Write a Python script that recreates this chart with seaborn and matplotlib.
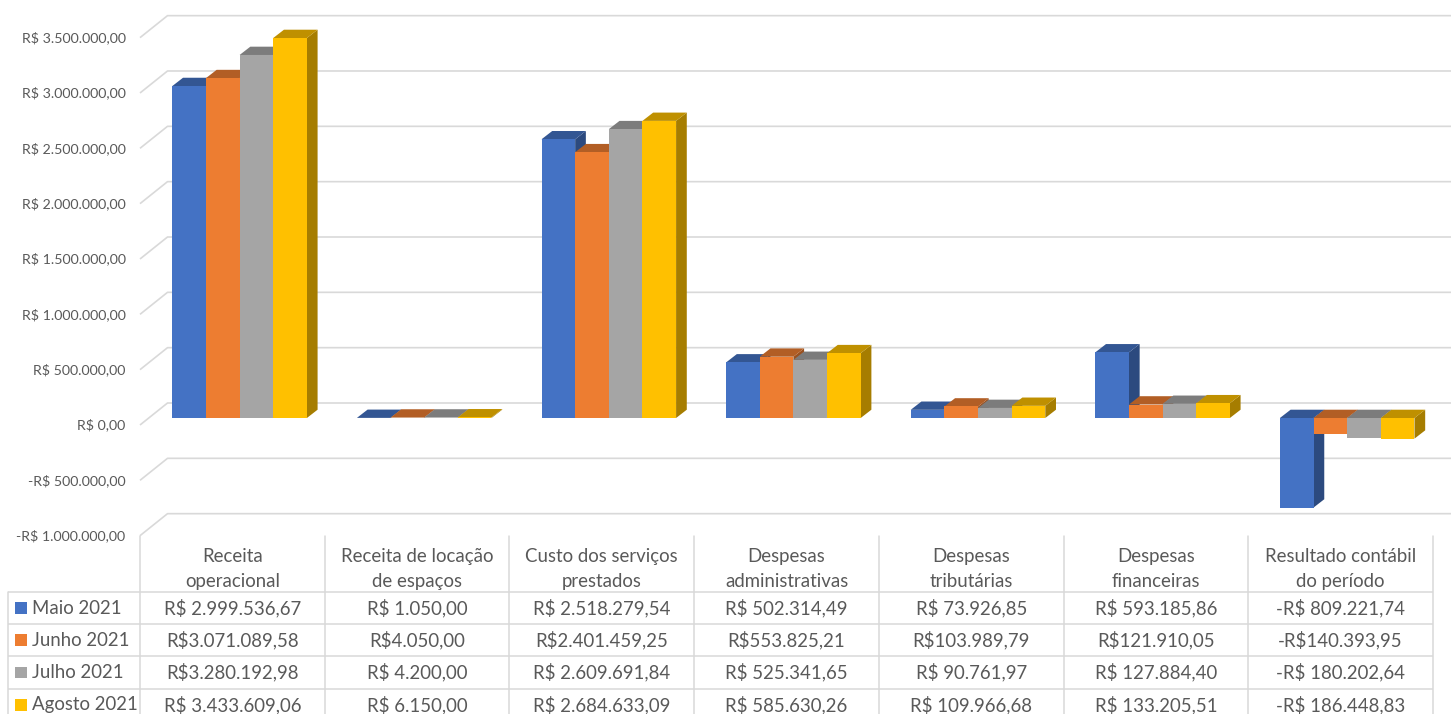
import numpy as np
import pandas as pd
import matplotlib
matplotlib.use("Agg")
import matplotlib.pyplot as plt
from matplotlib.patches import Polygon, Rectangle
import seaborn as sns

# ---------------- data ----------------
categories = ["Receita operacional", "Receita de locação de espaços",
              "Custo dos serviços prestados", "Despesas administrativas",
              "Despesas tributárias", "Despesas financeiras",
              "Resultado contábil do período"]
header_lines = [["Receita", "operacional"], ["Receita de locação", "de espaços"],
                ["Custo dos serviços", "prestados"], ["Despesas", "administrativas"],
                ["Despesas", "tributárias"], ["Despesas", "financeiras"],
                ["Resultado contábil", "do período"]]
months = ["Maio 2021", "Junho 2021", "Julho 2021", "Agosto 2021"]

maio = [2999536.67, 1050.00, 2518279.54, 502314.49, 73926.85, 593185.86, -809221.74]
junho = [3071089.58, 4050.00, 2401459.25, 553825.21, 103989.79, 121910.05, -140393.95]
julho = [3280192.98, 4200.00, 2609691.84, 525341.65, 90761.97, 127884.40, -180202.64]
agosto = [3433609.06, 6150.00, 2684633.09, 585630.26, 109966.68, 133205.51, -186448.83]

maio_txt = ["R$ 2.999.536,67", "R$ 1.050,00", "R$ 2.518.279,54", "R$ 502.314,49",
            "R$ 73.926,85", "R$ 593.185,86", "-R$ 809.221,74"]
junho_txt = ["R$3.071.089,58", "R$4.050,00", "R$2.401.459,25", "R$553.825,21",
             "R$103.989,79", "R$121.910,05", "-R$140.393,95"]
julho_txt = ["R$3.280.192,98", "R$ 4.200,00", "R$ 2.609.691,84", "R$ 525.341,65",
             "R$ 90.761,97", "R$ 127.884,40", "-R$ 180.202,64"]
agosto_txt = ["R$ 3.433.609,06", "R$ 6.150,00", "R$ 2.684.633,09", "R$ 585.630,26",
              "R$ 109.966,68", "R$ 133.205,51", "-R$ 186.448,83"]

y_ticks = [-1000000, -500000, 0, 500000, 1000000, 1500000, 2000000, 2500000, 3000000, 3500000]

series_vals = [maio, junho, julho, agosto]
series_txt = [maio_txt, junho_txt, julho_txt, agosto_txt]

colors = ["#4472C4", "#ED7D31", "#A5A5A5", "#FFC000"]

# ---------------- style ----------------
sns.set_theme(style="white")
plt.rcParams["font.family"] = ["Lato", "DejaVu Sans"]
TXT = "#595959"
GRID = "#d9d9d9"
FS_TAB = 13.4
FS_AX = 10.2

W, H = 1451, 714
fig = plt.figure(figsize=(W / 100, H / 100), dpi=100)
fig.patch.set_facecolor("white")

# main axes: front plane of bars
ax_left_px, ax_right_px = 140, 1451
zero_px = 418          # pixel row (from top) of value 0 on bar front plane
px_per_unit_y = 110.67e-6
group_px = 184.6
first_center_px = 239.6

ax = fig.add_axes([ax_left_px / W, 0, (ax_right_px - ax_left_px) / W, 1])
ax.set_facecolor("none")

df = pd.DataFrame({
    "cat": np.repeat(categories, len(months)),
    "mes": months * len(categories),
    "val": [series_vals[m][c] for c in range(len(categories)) for m in range(len(months))],
})

sns.barplot(data=df, x="cat", y="val", hue="mes", order=categories, hue_order=months,
            palette=colors, width=0.729, saturation=1, errorbar=None, linewidth=0,
            legend=False, ax=ax)

xl0 = (ax_left_px - first_center_px) / group_px
xl1 = (ax_right_px - first_center_px) / group_px
ax.set_xlim(xl0, xl1)
ax.set_ylim(-(H - zero_px) / px_per_unit_y, zero_px / px_per_unit_y)
ax.set_axis_off()

# pixel -> data conversions
sx = (xl1 - xl0) / (ax_right_px - ax_left_px)
sy = 1.0 / px_per_unit_y
depth_dx, depth_dy = 10.7, 8.3


def shade(c, f):
    r, g, b = matplotlib.colors.to_rgb(c)
    return (r * f, g * f, b * f)


for h, cont in enumerate(ax.containers):
    col = colors[h]
    for bar in cont:
        x0, w = bar.get_x(), bar.get_width()
        y0, hh = bar.get_y(), bar.get_height()
        top, bot = max(y0, y0 + hh), min(y0, y0 + hh)
        ddx, ddy = depth_dx * sx, depth_dy * sy
        side = Polygon([(x0 + w, bot), (x0 + w, top), (x0 + w + ddx, top + ddy),
                        (x0 + w + ddx, bot + ddy)], closed=True,
                       facecolor=shade(col, 0.65), edgecolor="none", zorder=10 + 3 * h)
        topf = Polygon([(x0, top), (x0 + w, top), (x0 + w + ddx, top + ddy),
                        (x0 + ddx, top + ddy)], closed=True,
                       facecolor=shade(col, 0.75), edgecolor="none", zorder=11 + 3 * h)
        ax.add_patch(side)
        ax.add_patch(topf)
        bar.set_zorder(12 + 3 * h)

# gridlines (floor-front slant + back wall) and y labels
ytr = ax.get_yaxis_transform()
axw = ax_right_px - ax_left_px


def fmt_brl(v):
    s = f"{abs(v):,.2f}".replace(",", "X").replace(".", ",").replace("X", ".")
    return ("-R$ " if v < 0 else "R$ ") + s


for v in y_ticks:
    ax.plot([0, 27.5 / axw, 1], [v - 7 * sy, v + 15 * sy, v + 15 * sy], transform=ytr,
            color=GRID, lw=1.2, zorder=1, clip_on=False, solid_capstyle="butt")
    ax.text(-14.5 / axw, v - 7 * sy, fmt_brl(v), transform=ytr, ha="right", va="center",
            fontsize=FS_AX, color=TXT, clip_on=False)

# ---------------- data table ----------------
tab_left_px, tab_right_px, tab_top_px = 8, 1433, 536
row_px = 32.2
hdr_bottom_px = 592
col_px = 184.7
ax_t = fig.add_axes([tab_left_px / W, 0, (tab_right_px - tab_left_px) / W, (H - tab_top_px) / H])
ax_t.set_facecolor("none")
tx0 = -0.5 - (140 - tab_left_px) / col_px
tx1 = len(categories) - 0.5
ty_top = (tab_top_px - hdr_bottom_px) / row_px
ty_bot = (H - hdr_bottom_px) / row_px
ax_t.set_xlim(tx0, tx1)
ax_t.set_ylim(ty_bot, ty_top)
ax_t.set_axis_off()

lw_t = 1.1
for k in range(len(months)):
    ax_t.plot([tx0, tx1], [k, k], color=GRID, lw=lw_t, clip_on=False, solid_capstyle="butt")
for i in range(len(categories) + 1):
    ax_t.plot([i - 0.5, i - 0.5], [ty_top, ty_bot + 1], color=GRID, lw=lw_t, clip_on=False)
ax_t.plot([tx0, tx0], [0, ty_bot + 1], color=GRID, lw=lw_t, clip_on=False)

hdr_y1 = (556.7 - hdr_bottom_px) / row_px
hdr_y2 = (581.7 - hdr_bottom_px) / row_px
for i, lines in enumerate(header_lines):
    ax_t.text(i, hdr_y1, lines[0], ha="center", va="center", fontsize=FS_TAB, color=TXT)
    ax_t.text(i, hdr_y2, lines[1], ha="center", va="center", fontsize=FS_TAB, color=TXT)

sq = 11.7
for k, m in enumerate(months):
    ax_t.add_patch(Rectangle((tx0 + 7 / col_px, k + 0.5 - (sq / 2) / row_px),
                             sq / col_px, sq / row_px, facecolor=colors[k],
                             edgecolor="none", clip_on=False))
    ax_t.text(tx0 + 24 / col_px, k + 0.5, m, ha="left", va="center",
              fontsize=FS_TAB, color=TXT, clip_on=False)
    for i in range(len(categories)):
        ax_t.text(i, k + 0.5, series_txt[k][i], ha="center", va="center",
                  fontsize=FS_TAB, color=TXT, clip_on=False)

fig.savefig("out.png", dpi=100, facecolor="white")
